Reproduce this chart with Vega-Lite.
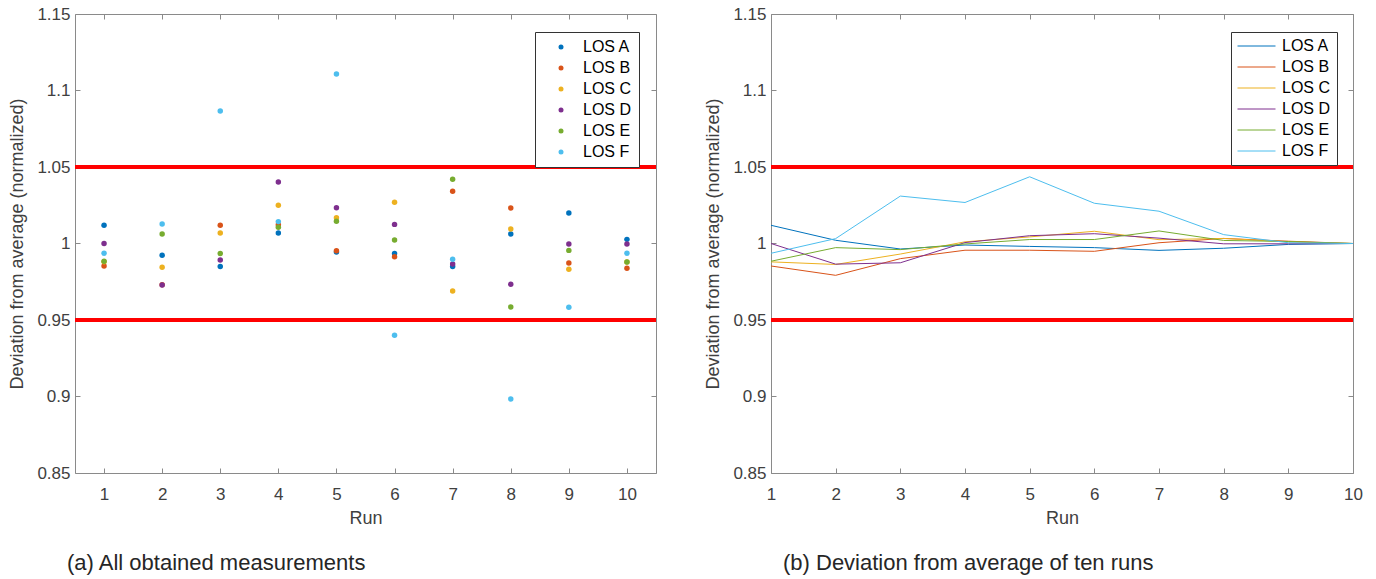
{
  "$schema": "https://vega.github.io/schema/vega-lite/v6.json",
  "background": "white",
  "padding": {"left": 8, "top": 5, "right": 5, "bottom": 5},
  "config": {
    "font": "Liberation Sans",
    "view": {"stroke": null},
    "concat": {"spacing": 46},
    "axis": {
      "grid": false,
      "domainColor": "#8a8a8a",
      "tickColor": "#8a8a8a",
      "labelColor": "#404040",
      "titleColor": "#404040",
      "labelFont": "Liberation Sans",
      "titleFont": "Liberation Sans",
      "labelFontSize": 17,
      "titleFontSize": 18,
      "titleFontWeight": "normal",
      "tickSize": -5,
      "labelFlush": false
    },
    "legend": {
      "labelFont": "Liberation Sans",
      "labelFontSize": 16,
      "labelColor": "#000000",
      "strokeColor": "#333333",
      "fillColor": "white",
      "rowPadding": 5
    }
  },
  "datasets": {
    "pts": [
      {"run": 1, "los": "LOS A", "value": 1.0119}, {"run": 1, "los": "LOS B", "value": 0.9853}, {"run": 1, "los": "LOS C", "value": 0.9880}, {"run": 1, "los": "LOS D", "value": 1.0000}, {"run": 1, "los": "LOS E", "value": 0.9884}, {"run": 1, "los": "LOS F", "value": 0.9936},
      {"run": 2, "los": "LOS A", "value": 0.9923}, {"run": 2, "los": "LOS B", "value": 0.9730}, {"run": 2, "los": "LOS C", "value": 0.9845}, {"run": 2, "los": "LOS D", "value": 0.9729}, {"run": 2, "los": "LOS E", "value": 1.0062}, {"run": 2, "los": "LOS F", "value": 1.0127},
      {"run": 3, "los": "LOS A", "value": 0.9849}, {"run": 3, "los": "LOS B", "value": 1.0119}, {"run": 3, "los": "LOS C", "value": 1.0069}, {"run": 3, "los": "LOS D", "value": 0.9892}, {"run": 3, "los": "LOS E", "value": 0.9934}, {"run": 3, "los": "LOS F", "value": 1.0866},
      {"run": 4, "los": "LOS A", "value": 1.0069}, {"run": 4, "los": "LOS B", "value": 1.0123}, {"run": 4, "los": "LOS C", "value": 1.0250}, {"run": 4, "los": "LOS D", "value": 1.0402}, {"run": 4, "los": "LOS E", "value": 1.0106}, {"run": 4, "los": "LOS F", "value": 1.0143},
      {"run": 5, "los": "LOS A", "value": 0.9944}, {"run": 5, "los": "LOS B", "value": 0.9953}, {"run": 5, "los": "LOS C", "value": 1.0169}, {"run": 5, "los": "LOS D", "value": 1.0234}, {"run": 5, "los": "LOS E", "value": 1.0145}, {"run": 5, "los": "LOS F", "value": 1.1108},
      {"run": 6, "los": "LOS A", "value": 0.9934}, {"run": 6, "los": "LOS B", "value": 0.9914}, {"run": 6, "los": "LOS C", "value": 1.0269}, {"run": 6, "los": "LOS D", "value": 1.0125}, {"run": 6, "los": "LOS E", "value": 1.0023}, {"run": 6, "los": "LOS F", "value": 0.9400},
      {"run": 7, "los": "LOS A", "value": 0.9849}, {"run": 7, "los": "LOS B", "value": 1.0341}, {"run": 7, "los": "LOS C", "value": 0.9690}, {"run": 7, "los": "LOS D", "value": 0.9866}, {"run": 7, "los": "LOS E", "value": 1.0420}, {"run": 7, "los": "LOS F", "value": 0.9897},
      {"run": 8, "los": "LOS A", "value": 1.0062}, {"run": 8, "los": "LOS B", "value": 1.0232}, {"run": 8, "los": "LOS C", "value": 1.0095}, {"run": 8, "los": "LOS D", "value": 0.9733}, {"run": 8, "los": "LOS E", "value": 0.9585}, {"run": 8, "los": "LOS F", "value": 0.8984},
      {"run": 9, "los": "LOS A", "value": 1.0199}, {"run": 9, "los": "LOS B", "value": 0.9873}, {"run": 9, "los": "LOS C", "value": 0.9831}, {"run": 9, "los": "LOS D", "value": 0.9997}, {"run": 9, "los": "LOS E", "value": 0.9955}, {"run": 9, "los": "LOS F", "value": 0.9583},
      {"run": 10, "los": "LOS A", "value": 1.0027}, {"run": 10, "los": "LOS B", "value": 0.9838}, {"run": 10, "los": "LOS C", "value": 0.9879}, {"run": 10, "los": "LOS D", "value": 0.9997}, {"run": 10, "los": "LOS E", "value": 0.9879}, {"run": 10, "los": "LOS F", "value": 0.9936}
    ],
    "cum": [
      {"run": 1, "los": "LOS A", "value": 1.0119}, {"run": 2, "los": "LOS A", "value": 1.0021}, {"run": 3, "los": "LOS A", "value": 0.9964}, {"run": 4, "los": "LOS A", "value": 0.9990}, {"run": 5, "los": "LOS A", "value": 0.9981}, {"run": 6, "los": "LOS A", "value": 0.9973}, {"run": 7, "los": "LOS A", "value": 0.9955}, {"run": 8, "los": "LOS A", "value": 0.9969}, {"run": 9, "los": "LOS A", "value": 0.9994}, {"run": 10, "los": "LOS A", "value": 1.0},
      {"run": 1, "los": "LOS B", "value": 0.9853}, {"run": 2, "los": "LOS B", "value": 0.9792}, {"run": 3, "los": "LOS B", "value": 0.9901}, {"run": 4, "los": "LOS B", "value": 0.9956}, {"run": 5, "los": "LOS B", "value": 0.9956}, {"run": 6, "los": "LOS B", "value": 0.9949}, {"run": 7, "los": "LOS B", "value": 1.0005}, {"run": 8, "los": "LOS B", "value": 1.0033}, {"run": 9, "los": "LOS B", "value": 1.0015}, {"run": 10, "los": "LOS B", "value": 1.0},
      {"run": 1, "los": "LOS C", "value": 0.9880}, {"run": 2, "los": "LOS C", "value": 0.9863}, {"run": 3, "los": "LOS C", "value": 0.9931}, {"run": 4, "los": "LOS C", "value": 1.0011}, {"run": 5, "los": "LOS C", "value": 1.0043}, {"run": 6, "los": "LOS C", "value": 1.0080}, {"run": 7, "los": "LOS C", "value": 1.0025}, {"run": 8, "los": "LOS C", "value": 1.0033}, {"run": 9, "los": "LOS C", "value": 1.0011}, {"run": 10, "los": "LOS C", "value": 1.0},
      {"run": 1, "los": "LOS D", "value": 1.0000}, {"run": 2, "los": "LOS D", "value": 0.9865}, {"run": 3, "los": "LOS D", "value": 0.9874}, {"run": 4, "los": "LOS D", "value": 1.0006}, {"run": 5, "los": "LOS D", "value": 1.0051}, {"run": 6, "los": "LOS D", "value": 1.0064}, {"run": 7, "los": "LOS D", "value": 1.0035}, {"run": 8, "los": "LOS D", "value": 0.9998}, {"run": 9, "los": "LOS D", "value": 0.9998}, {"run": 10, "los": "LOS D", "value": 1.0},
      {"run": 1, "los": "LOS E", "value": 0.9884}, {"run": 2, "los": "LOS E", "value": 0.9973}, {"run": 3, "los": "LOS E", "value": 0.9960}, {"run": 4, "los": "LOS E", "value": 0.9997}, {"run": 5, "los": "LOS E", "value": 1.0026}, {"run": 6, "los": "LOS E", "value": 1.0026}, {"run": 7, "los": "LOS E", "value": 1.0082}, {"run": 8, "los": "LOS E", "value": 1.0020}, {"run": 9, "los": "LOS E", "value": 1.0013}, {"run": 10, "los": "LOS E", "value": 1.0},
      {"run": 1, "los": "LOS F", "value": 0.9936}, {"run": 2, "los": "LOS F", "value": 1.0032}, {"run": 3, "los": "LOS F", "value": 1.0310}, {"run": 4, "los": "LOS F", "value": 1.0268}, {"run": 5, "los": "LOS F", "value": 1.0436}, {"run": 6, "los": "LOS F", "value": 1.0263}, {"run": 7, "los": "LOS F", "value": 1.0211}, {"run": 8, "los": "LOS F", "value": 1.0058}, {"run": 9, "los": "LOS F", "value": 1.0005}, {"run": 10, "los": "LOS F", "value": 1.0}
    ],
    "refs": [{"y": 1.05}, {"y": 0.95}]
  },
  "resolve": {"scale": {"color": "independent"}, "legend": {"color": "independent"}},
  "hconcat": [
    {
      "width": 581,
      "height": 459,
      "title": {"text": "(a) All obtained measurements", "orient": "bottom", "anchor": "start", "frame": "group", "dx": -8, "offset": 26, "fontSize": 22, "fontWeight": "normal", "color": "#262626", "font": "Liberation Sans"},
      "layer": [
        {
          "data": {"name": "refs"},
          "mark": {"type": "rule", "color": "#ff0000", "strokeWidth": 4},
          "encoding": {
            "y": {"field": "y", "type": "quantitative", "scale": {"domain": [0.85, 1.15], "nice": false, "zero": false},
                  "axis": {"orient": "right", "labels": false, "title": null, "values": [0.85, 0.9, 0.95, 1, 1.05, 1.1, 1.15]}}
          }
        },
        {
          "data": {"name": "pts"},
          "mark": {"type": "point", "filled": true, "size": 30, "opacity": 1},
          "encoding": {
            "x": {"field": "run", "type": "quantitative", "scale": {"domain": [0.5, 10.5], "nice": false, "zero": false},
                  "axis": {"orient": "bottom", "values": [1, 2, 3, 4, 5, 6, 7, 8, 9, 10], "title": "Run", "labelPadding": 18, "titlePadding": 7}},
            "y": {"field": "value", "type": "quantitative",
                  "axis": {"orient": "left", "values": [0.85, 0.9, 0.95, 1, 1.05, 1.1, 1.15], "format": "~g", "title": "Deviation from average (normalized)", "labelPadding": 10, "titlePadding": 10}},
            "color": {"field": "los", "type": "nominal",
                      "scale": {"domain": ["LOS A", "LOS B", "LOS C", "LOS D", "LOS E", "LOS F"], "range": ["#0072BD", "#D95319", "#EDB120", "#7E2F8E", "#77AC30", "#4DBEEE"]},
                      "legend": {"orient": "none", "legendX": 460, "legendY": 18, "title": null, "symbolType": "circle", "symbolSize": 25, "padding": 7, "symbolOffset": 11, "labelOffset": 14}}
          }
        },
        {
          "data": {"name": "pts"},
          "mark": {"type": "point", "opacity": 0},
          "encoding": {
            "x": {"field": "run", "type": "quantitative", "axis": {"orient": "top", "labels": false, "title": null, "values": [1, 2, 3, 4, 5, 6, 7, 8, 9, 10]}},
            "y": {"field": "value", "type": "quantitative", "axis": null}
          }
        }
      ],
      "resolve": {"axis": {"x": "independent", "y": "independent"}}
    },
    {
      "width": 582,
      "height": 459,
      "title": {"text": "(b) Deviation from average of ten runs", "orient": "bottom", "anchor": "start", "frame": "group", "dx": 12, "offset": 26, "fontSize": 22, "fontWeight": "normal", "color": "#262626", "font": "Liberation Sans"},
      "layer": [
        {
          "data": {"name": "refs"},
          "mark": {"type": "rule", "color": "#ff0000", "strokeWidth": 4},
          "encoding": {
            "y": {"field": "y", "type": "quantitative", "scale": {"domain": [0.85, 1.15], "nice": false, "zero": false},
                  "axis": {"orient": "right", "labels": false, "title": null, "values": [0.85, 0.9, 0.95, 1, 1.05, 1.1, 1.15]}}
          }
        },
        {
          "data": {"name": "cum"},
          "mark": {"type": "line", "strokeWidth": 1},
          "encoding": {
            "x": {"field": "run", "type": "quantitative", "scale": {"domain": [1, 10], "nice": false, "zero": false},
                  "axis": {"orient": "bottom", "values": [1, 2, 3, 4, 5, 6, 7, 8, 9, 10], "title": "Run", "labelPadding": 18, "titlePadding": 7}},
            "y": {"field": "value", "type": "quantitative",
                  "axis": {"orient": "left", "values": [0.85, 0.9, 0.95, 1, 1.05, 1.1, 1.15], "format": "~g", "title": "Deviation from average (normalized)", "labelPadding": 10, "titlePadding": 10}},
            "color": {"field": "los", "type": "nominal",
                      "scale": {"domain": ["LOS A", "LOS B", "LOS C", "LOS D", "LOS E", "LOS F"], "range": ["#0072BD", "#D95319", "#EDB120", "#7E2F8E", "#77AC30", "#4DBEEE"]},
                      "legend": {"orient": "none", "legendX": 460, "legendY": 18, "title": null, "symbolType": "stroke", "symbolSize": 1444, "symbolStrokeWidth": 1, "padding": 6, "labelOffset": 6, "clipHeight": 16}}
          }
        },
        {
          "data": {"name": "cum"},
          "mark": {"type": "point", "opacity": 0},
          "encoding": {
            "x": {"field": "run", "type": "quantitative", "axis": {"orient": "top", "labels": false, "title": null, "values": [1, 2, 3, 4, 5, 6, 7, 8, 9, 10]}},
            "y": {"field": "value", "type": "quantitative", "axis": null}
          }
        }
      ],
      "resolve": {"axis": {"x": "independent", "y": "independent"}}
    }
  ]
}
